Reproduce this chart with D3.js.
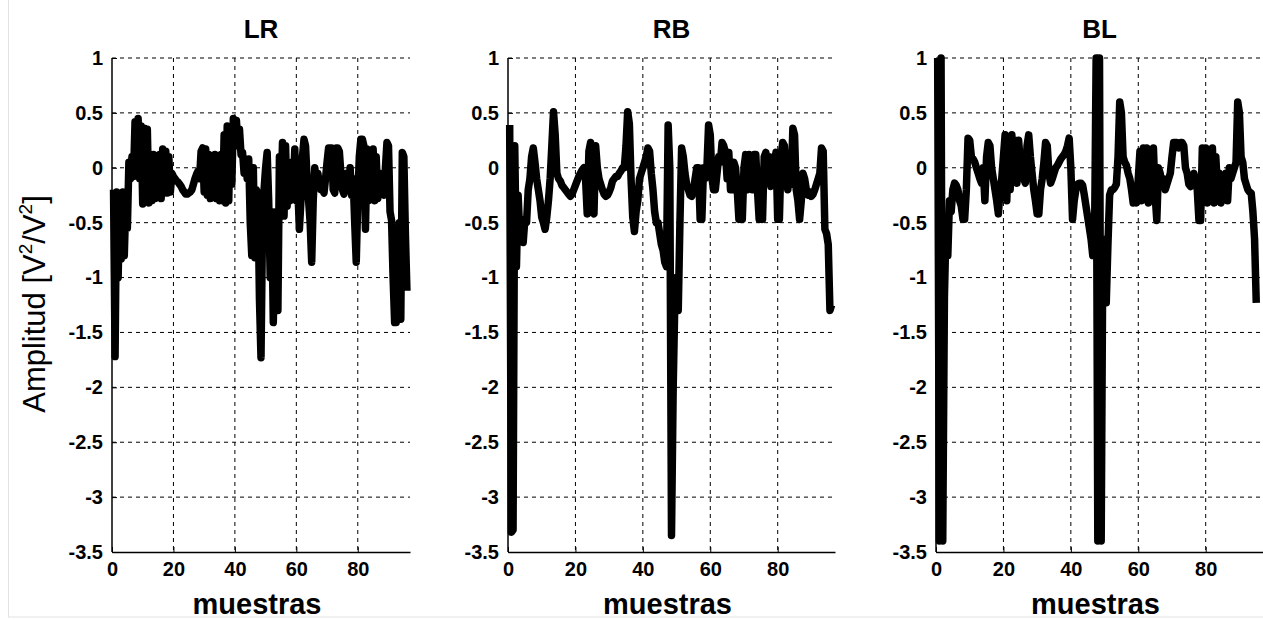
<!DOCTYPE html>
<html><head><meta charset="utf-8">
<script src="https://cdn.jsdelivr.net/npm/d3@7"></script>
<style>body{margin:0;background:#fff}svg{display:block}</style>
</head><body>
<svg id="c" width="1263" height="620"></svg>
<script>
const titles = ["LR", "RB", "BL"];
const xTickValues = [0, 20, 40, 60, 80];
const yTickValues = [1, 0.5, 0, -0.5, -1, -1.5, -2, -2.5, -3, -3.5];
const xLabel = "muestras";
const sampleStep = 0.5;
// values read every half sample (x = 0.5, 1, 1.5, ...)
const LR = [
 -0.2,-1.72, -0.22,-1.0, -0.25,-0.83, -0.22,-0.8, -0.3,-0.55,
 0.05,-0.1, 0.1,-0.08, 0.42,0.0, 0.45,-0.1, 0.38,-0.33,
 0.36,-0.3, 0.35,-0.32, 0.1,-0.3, 0.12,-0.28, 0.1,-0.25,
 0.12,-0.28, 0.17,-0.2, 0.15,-0.23, 0.1,-0.22, -0.05,-0.08,
 -0.1,-0.12, -0.13,-0.15, -0.17,-0.2, -0.22,-0.24, -0.24,-0.23,
 -0.22,-0.2, -0.15,-0.1, -0.06,-0.03, -0.1,0.15, 0.18,-0.22,
 0.17,-0.25, 0.12,-0.28, 0.1,-0.25, 0.12,-0.28, 0.1,-0.3,
 0.12,-0.3, 0.3,-0.32, 0.38,-0.3, 0.35,-0.15, 0.45,0.3,
 0.43,0.2, 0.35,0.12, 0.14,-0.05, 0.08,-0.1, 0.08,-0.5,
 -0.8,0.0, -0.82,-0.2, -0.25,-1.2, -1.73,-0.5, -0.2,0.0,
 0.14,-0.3, -1.0,-0.4, -1.41,-0.6, -0.4,-1.3, 0.1,-0.3,
 0.23,-0.44, 0.2,-0.35, -0.1,-0.3, 0.05,-0.2, 0.17,-0.3,
 -0.2,-0.56, -0.3,0.1, 0.26,0.2, -0.1,-0.3, -0.5,-0.86,
 -0.3,0.0, -0.1,-0.05, -0.15,-0.2, -0.2,-0.23, -0.1,0.05,
 0.18,0.18, 0.18,-0.2, -0.23,0.18, 0.18,0.15, -0.05,-0.2,
 -0.24,-0.15, -0.05,-0.2, 0.0,-0.25, -0.1,-0.5, -0.86,-0.3,
 0.1,0.26, 0.26,0.2, -0.56,0.17, -0.3,0.15, -0.2,0.17,
 -0.3,0.1, -0.28,-0.05, -0.15,-0.2, -0.25,0.0, 0.23,0.2,
 -0.4,-0.48, -1.0,-1.41, -1.41,-1.3, -0.5,-1.38, 0.14,0.1,
 -0.6,-1.12];
const RB = [
 0.39,-3.32, -3.3,0.2, -0.9,-0.25, -0.6,-0.5, -0.68,-0.47,
 -0.5,-0.2, -0.1,0.1, 0.18,0.05, -0.1,-0.2, -0.3,-0.45,
 -0.5,-0.56, -0.45,-0.3, -0.1,0.2, 0.51,0.3, -0.05,-0.1,
 -0.12,-0.16, -0.18,-0.2, -0.22,-0.24, -0.26,-0.24, -0.2,-0.16,
 -0.12,-0.08, -0.05,-0.02, 0.0,-0.1, -0.42,0.15, 0.23,-0.4,
 -0.42,0.2, 0.0,-0.1, -0.15,-0.2, -0.24,-0.26, -0.25,-0.22,
 -0.18,-0.12, -0.1,-0.08, -0.08,-0.05, -0.03,0.0, 0.0,0.2,
 0.51,0.4, -0.1,-0.45, -0.58,-0.4, -0.3,-0.1, -0.05,0.0,
 0.05,0.1, 0.18,0.15, -0.05,-0.2, -0.4,-0.5, -0.5,-0.6,
 -0.7,-0.75, -0.86,-0.9, 0.39,0.0, -3.35,-2.0, -1.2,-1.0,
 -1.3,-0.5, 0.18,0.1, -0.05,-0.15, -0.2,-0.25, -0.26,-0.2,
 -0.1,0.0, 0.0,-0.47, -0.47,0.0, -0.1,0.0, 0.39,0.3,
 -0.1,-0.2, -0.2,-0.05, 0.1,0.05, 0.23,0.2, 0.14,-0.1,
 0.14,-0.2, -0.2,0.05, 0.0,-0.2, -0.47,-0.3, -0.47,0.0,
 0.12,-0.2, 0.12,-0.1, -0.2,0.12, 0.12,-0.2, -0.47,-0.3,
 -0.47,0.1, 0.14,-0.1, 0.1,-0.17, -0.1,0.05, 0.14,-0.47,
 -0.47,0.1, 0.23,0.2, -0.1,-0.2, 0.0,-0.15, 0.36,0.3,
 -0.2,-0.3, -0.47,-0.3, -0.05,-0.1, -0.2,-0.25, -0.22,-0.26,
 -0.24,-0.2, -0.15,-0.1, -0.05,0.18, 0.15,-0.56, -0.6,-0.7,
 -1.3,-1.25];
const BL = [
 1.0,-3.4, 1.0,-3.4, -1.17,-0.5, -0.8,-0.3, -0.4,-0.2,
 -0.14,-0.16, -0.2,-0.3, -0.35,-0.47, -0.47,-0.2, 0.27,0.25,
 0.1,0.08, 0.05,0.0, -0.05,-0.1, -0.14,0.0, -0.3,0.1,
 0.23,0.2, 0.0,-0.1, -0.2,-0.3, -0.42,-0.2, -0.1,0.1,
 0.3,-0.3, 0.28,-0.2, 0.3,-0.1, 0.25,-0.14, 0.25,0.05,
 0.0,-0.1, -0.14,0.2, 0.3,0.1, -0.05,-0.2, -0.3,-0.42,
 -0.42,-0.2, -0.1,0.05, 0.23,0.2, -0.05,-0.14, -0.1,-0.05,
 0.0,0.02, 0.05,0.08, 0.1,0.12, 0.15,0.2, 0.27,0.0,
 -0.47,-0.3, -0.2,-0.15, -0.14,-0.14, -0.16,-0.25, -0.35,-0.45,
 -0.55,-0.65, -0.8,-0.75, 1.0,-3.4, 1.0,-3.4, -0.65,-1.0,
 -1.23,-0.7, -0.25,-0.2, -0.2,-0.18, -0.15,0.1, 0.6,0.5,
 0.1,0.05, 0.02,-0.05, -0.1,-0.2, -0.32,-0.25, -0.32,-0.1,
 0.15,-0.3, 0.18,-0.2, 0.18,-0.32, 0.15,-0.3, 0.18,-0.25,
 -0.48,0.0, -0.05,-0.15, -0.1,-0.2, -0.15,-0.1, -0.05,0.1,
 0.23,0.23, 0.23,0.18, 0.23,0.23, 0.2,0.0, -0.05,-0.15,
 -0.17,-0.1, -0.05,-0.12, -0.2,-0.48, -0.48,0.18, -0.3,0.18,
 -0.32,0.15, -0.25,0.18, -0.32,0.1, -0.2,-0.05, -0.32,-0.1,
 -0.2,-0.05, -0.3,0.0, -0.1,-0.05, 0.0,0.05, 0.6,0.5,
 0.1,0.05, -0.1,-0.15, -0.2,-0.22, -0.23,-0.4, -0.65,-1.23];
const seriesList = [LR, RB, BL];

const svg = d3.select("#c");
const font = "'Liberation Sans', Arial, sans-serif";
const panelLeft = [112, 508, 936];
const panelRight = [410, 835, 1263];
const plotTop = 58, plotBottom = 552;

svg.append("rect").attr("x",8.5).attr("y",-2).attr("width",1260).attr("height",619)
  .attr("fill","none").attr("stroke","#e2e2e2");

const y = d3.scaleLinear().domain([-3.5, 1]).range([plotBottom, plotTop]);

seriesList.forEach((data, k) => {
  const x = d3.scaleLinear().domain([0, 97]).range([panelLeft[k], panelRight[k]]);
  const g = svg.append("g");
  g.selectAll("line.vg").data(xTickValues.filter(v => v > 0)).join("line").attr("class","vg")
    .attr("x1", d => x(d)).attr("x2", d => x(d)).attr("y1", plotTop).attr("y2", plotBottom)
    .attr("stroke", "#000").attr("stroke-width", 1).attr("stroke-dasharray", "4,4");
  g.selectAll("line.hg").data(yTickValues.filter(v => v > -3.5)).join("line").attr("class","hg")
    .attr("x1", panelLeft[k]).attr("x2", panelRight[k]).attr("y1", d => y(d)).attr("y2", d => y(d))
    .attr("stroke", "#000").attr("stroke-width", 1).attr("stroke-dasharray", "4,4");
  const xa = g.append("g").attr("transform", `translate(0,${plotBottom})`)
    .call(d3.axisBottom(x).tickValues(xTickValues).tickSize(-5).tickPadding(10).tickSizeOuter(0));
  const ya = g.append("g").attr("transform", `translate(${panelLeft[k]},0)`)
    .call(d3.axisLeft(y).tickValues(yTickValues).tickSize(-5).tickPadding(9).tickSizeOuter(0).tickFormat(d => String(d)));
  [xa, ya].forEach(a => {
    a.select(".domain").attr("stroke", "#000").attr("stroke-width", 1.5);
    a.selectAll(".tick line").attr("stroke", "#000");
    a.selectAll("text").attr("font-family", font).attr("font-weight", "bold").attr("font-size", 20).attr("fill", "#000");
  });
  ya.select(".domain").attr("d", `M0,${plotBottom}V${plotTop}`);
  const line = d3.line().x((d, i) => x((i + 1) * sampleStep)).y(d => y(d));
  g.append("path").datum(data).attr("d", line).attr("fill", "none")
    .attr("stroke", "#000").attr("stroke-width", 7.5).attr("stroke-linejoin", "round");
  const cx = (panelLeft[k] + panelRight[k]) / 2;
  g.append("text").attr("x", cx).attr("y", 38).attr("text-anchor", "middle")
    .attr("font-family", font).attr("font-weight", "bold").attr("font-size", 26).text(titles[k]);
  g.append("text").attr("x", cx - 4).attr("y", 614).attr("text-anchor", "middle")
    .attr("font-family", font).attr("font-weight", "bold").attr("font-size", 29).text(xLabel);
});

const yl = svg.append("text").attr("transform", "translate(45,304) rotate(-90)").attr("text-anchor", "middle")
  .attr("font-family", font).attr("font-size", 31);
yl.append("tspan").text("Amplitud [V");
yl.append("tspan").attr("font-size", 19).attr("dy", -13).text("2");
yl.append("tspan").attr("dy", 13).text("/V");
yl.append("tspan").attr("font-size", 19).attr("dy", -13).text("2");
yl.append("tspan").attr("dy", 13).text("]");
</script>
</body></html>
